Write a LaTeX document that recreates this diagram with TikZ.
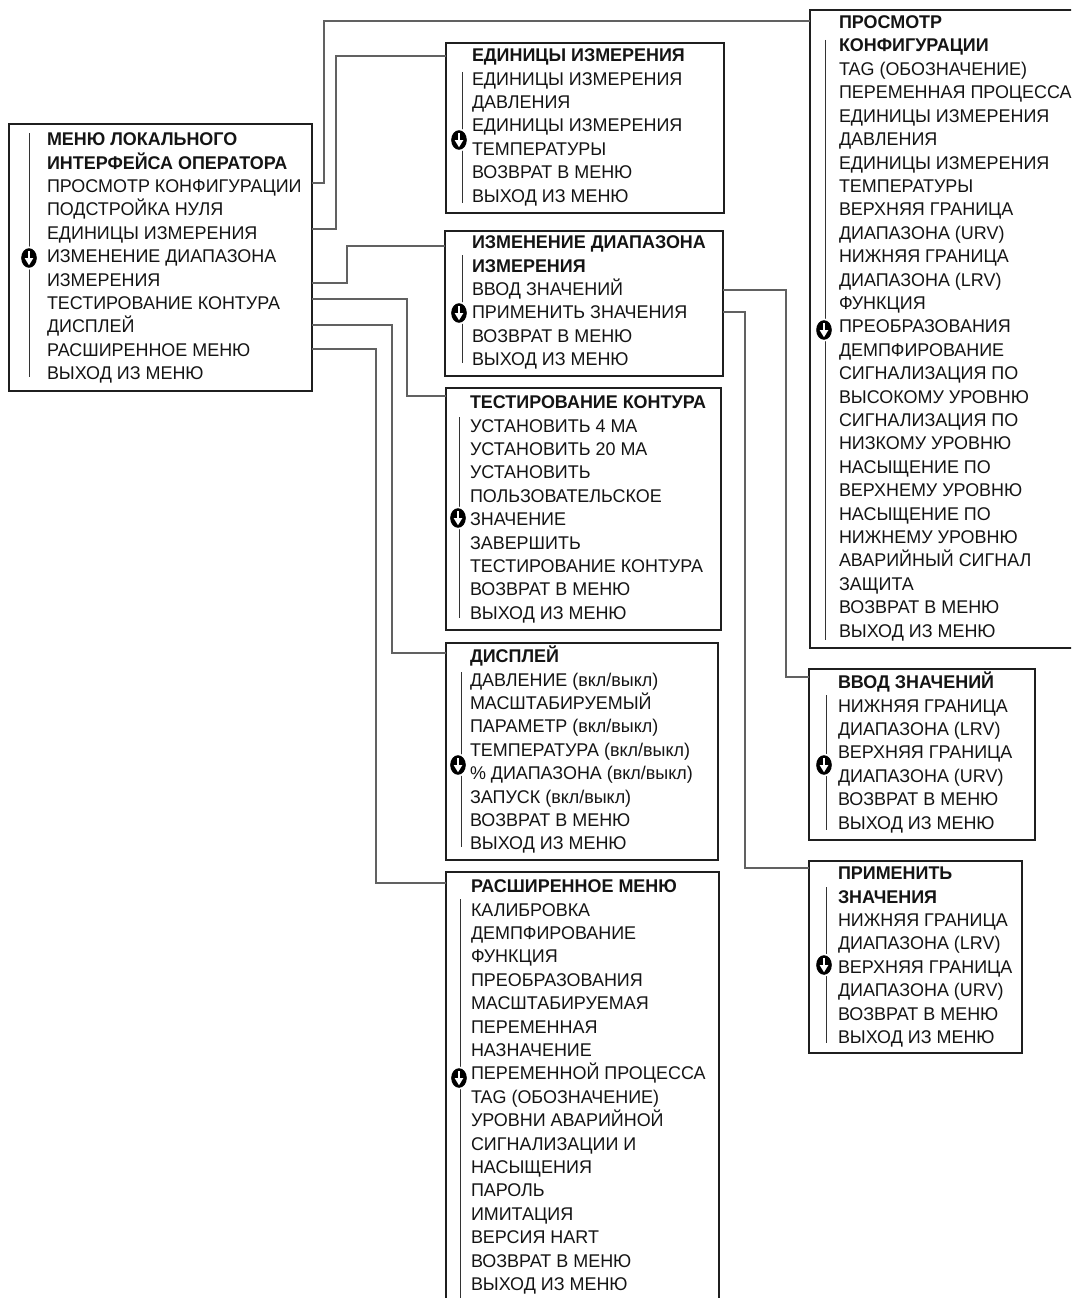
\documentclass[tikz,border=0pt]{standalone}
\usepackage{fontspec}
\setmainfont[FakeStretch=0.975]{Liberation Sans}
\newcommand\menufont{\fontsize{18.4pt}{23.4pt}\selectfont}
\tikzset{
  mbox/.style={draw=black!88, line width=1.8pt, rectangle, anchor=north west, inner sep=0pt, outer sep=0pt},
  conn/.style={draw=black!62, line width=1.3pt},
  sbar/.style={draw=black!80, line width=0.9pt},
  itm/.style={anchor=base west, inner sep=0pt, outer sep=0pt, font=\menufont, text=black!92},
  ttl/.style={itm, font=\menufont\bfseries},
  scrollic/.pic={
    \fill[white] (0,0) ellipse [x radius=9.6, y radius=11.6];
    \fill[black] (0,0) ellipse [x radius=7.8, y radius=9.8];
    \fill[white] (-1.4,-7) rectangle (1.4,0.5);
    \fill[white] (-4.4,0) -- (4.4,0) -- (0,7.2) -- cycle;
  }
}
\newcommand\mlist[5]{%
  \foreach [count=\i] \t in {#5} {%
    \pgfmathtruncatemacro\isb{\i<=#4}%
    \ifnum\isb=1
      \node[ttl] (#1\i) at (#2, {#3+(\i-1)*23.4}) {\t};
    \else
      \node[itm] (#1\i) at (#2, {#3+(\i-1)*23.4}) {\t};
    \fi
  }%
}
\begin{document}
\begin{tikzpicture}[x=1pt, y=-1pt]
\useasboundingbox (0,0) rectangle (1071,1298);
\clip (0,0) rectangle (1071,1298);

% boxes
\node[mbox, minimum width=303pt, minimum height=267pt] (main)  at (9,124) {};
\node[mbox, minimum width=278pt, minimum height=170pt] (units) at (446,43) {};
\node[mbox, minimum width=278pt, minimum height=145pt] (range) at (445,231) {};
\node[mbox, minimum width=275pt, minimum height=242pt] (loop)  at (446,388) {};
\node[mbox, minimum width=272pt, minimum height=217pt] (disp)  at (446,643) {};
\node[mbox, minimum width=273pt, minimum height=460pt] (ext)   at (446,872) {};
\node[mbox, minimum width=300pt, minimum height=638pt] (view)  at (810,10) {};
\node[mbox, minimum width=226pt, minimum height=171pt] (enter) at (809,669) {};
\node[mbox, minimum width=213pt, minimum height=192pt] (apply) at (809,861) {};

% connectors
\draw[conn] (main.east |- 0,183) -| (324,21) -- (view.west |- 0,21);
\draw[conn] (main.east |- 0,229) -| (336,56) -- (units.west |- 0,56);
\draw[conn] (main.east |- 0,283) -| (347,246) -- (range.west |- 0,246);
\draw[conn] (main.east |- 0,299) -| (407,396) -- (loop.west |- 0,396);
\draw[conn] (main.east |- 0,325) -| (392,653) -- (disp.west |- 0,653);
\draw[conn] (main.east |- 0,349) -| (376,883) -- (ext.west |- 0,883);
\draw[conn] (range.east |- 0,290) -| (786,677) -- (enter.west |- 0,677);
\draw[conn] (range.east |- 0,312) -| (745,868) -- (apply.west |- 0,868);

% scroll bars
\draw[sbar] (29,133) -- (29,377);
\draw[sbar] (462,72) -- (462,203);
\draw[sbar] (462,255) -- (462,363);
\draw[sbar] (459,417) -- (459,618);
\draw[sbar] (461,672) -- (461,847);
\draw[sbar] (460,899) -- (460,1310);
\draw[sbar] (825,40) -- (825,640);
\draw[sbar] (826,695) -- (826,830);
\draw[sbar] (826,887) -- (826,1043);

% scroll icons
\pic at (29,258) {scrollic};
\pic at (459,140) {scrollic};
\pic at (459,313) {scrollic};
\pic at (458,518) {scrollic};
\pic at (458,765) {scrollic};
\pic at (459,1078) {scrollic};
\pic at (824,330) {scrollic};
\pic at (824,765) {scrollic};
\pic at (824,965) {scrollic};

% texts
\mlist{m}{47}{145.6}{2}{МЕНЮ ЛОКАЛЬНОГО, ИНТЕРФЕЙСА ОПЕРАТОРА, ПРОСМОТР КОНФИГУРАЦИИ, ПОДСТРОЙКА НУЛЯ, ЕДИНИЦЫ ИЗМЕРЕНИЯ, ИЗМЕНЕНИЕ ДИАПАЗОНА, ИЗМЕРЕНИЯ, ТЕСТИРОВАНИЕ КОНТУРА, ДИСПЛЕЙ, РАСШИРЕННОЕ МЕНЮ, ВЫХОД ИЗ МЕНЮ}
\mlist{u}{472}{61.6}{1}{ЕДИНИЦЫ ИЗМЕРЕНИЯ, ЕДИНИЦЫ ИЗМЕРЕНИЯ, ДАВЛЕНИЯ, ЕДИНИЦЫ ИЗМЕРЕНИЯ, ТЕМПЕРАТУРЫ, ВОЗВРАТ В МЕНЮ, ВЫХОД ИЗ МЕНЮ}
\mlist{r}{472}{248.6}{2}{ИЗМЕНЕНИЕ ДИАПАЗОНА, ИЗМЕРЕНИЯ, ВВОД ЗНАЧЕНИЙ, ПРИМЕНИТЬ ЗНАЧЕНИЯ, ВОЗВРАТ В МЕНЮ, ВЫХОД ИЗ МЕНЮ}
\mlist{l}{470}{408.6}{1}{ТЕСТИРОВАНИЕ КОНТУРА, УСТАНОВИТЬ 4 МА, УСТАНОВИТЬ 20 МА, УСТАНОВИТЬ, ПОЛЬЗОВАТЕЛЬСКОЕ, ЗНАЧЕНИЕ, ЗАВЕРШИТЬ, ТЕСТИРОВАНИЕ КОНТУРА, ВОЗВРАТ В МЕНЮ, ВЫХОД ИЗ МЕНЮ}
\mlist{d}{470}{662.6}{1}{ДИСПЛЕЙ, ДАВЛЕНИЕ (вкл/выкл), МАСШТАБИРУЕМЫЙ, ПАРАМЕТР (вкл/выкл), ТЕМПЕРАТУРА (вкл/выкл), \% ДИАПАЗОНА (вкл/выкл), ЗАПУСК (вкл/выкл), ВОЗВРАТ В МЕНЮ, ВЫХОД ИЗ МЕНЮ}
\mlist{e}{471}{892.6}{1}{РАСШИРЕННОЕ МЕНЮ, КАЛИБРОВКА, ДЕМПФИРОВАНИЕ, ФУНКЦИЯ, ПРЕОБРАЗОВАНИЯ, МАСШТАБИРУЕМАЯ, ПЕРЕМЕННАЯ, НАЗНАЧЕНИЕ, ПЕРЕМЕННОЙ ПРОЦЕССА, TAG (ОБОЗНАЧЕНИЕ), УРОВНИ АВАРИЙНОЙ, СИГНАЛИЗАЦИИ И, НАСЫЩЕНИЯ, ПАРОЛЬ, ИМИТАЦИЯ, ВЕРСИЯ HART, ВОЗВРАТ В МЕНЮ, ВЫХОД ИЗ МЕНЮ}
\mlist{v}{839}{28.6}{2}{ПРОСМОТР, КОНФИГУРАЦИИ, TAG (ОБОЗНАЧЕНИЕ), ПЕРЕМЕННАЯ ПРОЦЕССА, ЕДИНИЦЫ ИЗМЕРЕНИЯ, ДАВЛЕНИЯ, ЕДИНИЦЫ ИЗМЕРЕНИЯ, ТЕМПЕРАТУРЫ, ВЕРХНЯЯ ГРАНИЦА, ДИАПАЗОНА (URV), НИЖНЯЯ ГРАНИЦА, ДИАПАЗОНА (LRV), ФУНКЦИЯ, ПРЕОБРАЗОВАНИЯ, ДЕМПФИРОВАНИЕ, СИГНАЛИЗАЦИЯ ПО, ВЫСОКОМУ УРОВНЮ, СИГНАЛИЗАЦИЯ ПО, НИЗКОМУ УРОВНЮ, НАСЫЩЕНИЕ ПО, ВЕРХНЕМУ УРОВНЮ, НАСЫЩЕНИЕ ПО, НИЖНЕМУ УРОВНЮ, АВАРИЙНЫЙ СИГНАЛ, ЗАЩИТА, ВОЗВРАТ В МЕНЮ, ВЫХОД ИЗ МЕНЮ}
\mlist{n}{838}{688.6}{1}{ВВОД ЗНАЧЕНИЙ, НИЖНЯЯ ГРАНИЦА, ДИАПАЗОНА (LRV), ВЕРХНЯЯ ГРАНИЦА, ДИАПАЗОНА (URV), ВОЗВРАТ В МЕНЮ, ВЫХОД ИЗ МЕНЮ}
\mlist{a}{838}{879.6}{2}{ПРИМЕНИТЬ, ЗНАЧЕНИЯ, НИЖНЯЯ ГРАНИЦА, ДИАПАЗОНА (LRV), ВЕРХНЯЯ ГРАНИЦА, ДИАПАЗОНА (URV), ВОЗВРАТ В МЕНЮ, ВЫХОД ИЗ МЕНЮ}
\end{tikzpicture}
\end{document}
